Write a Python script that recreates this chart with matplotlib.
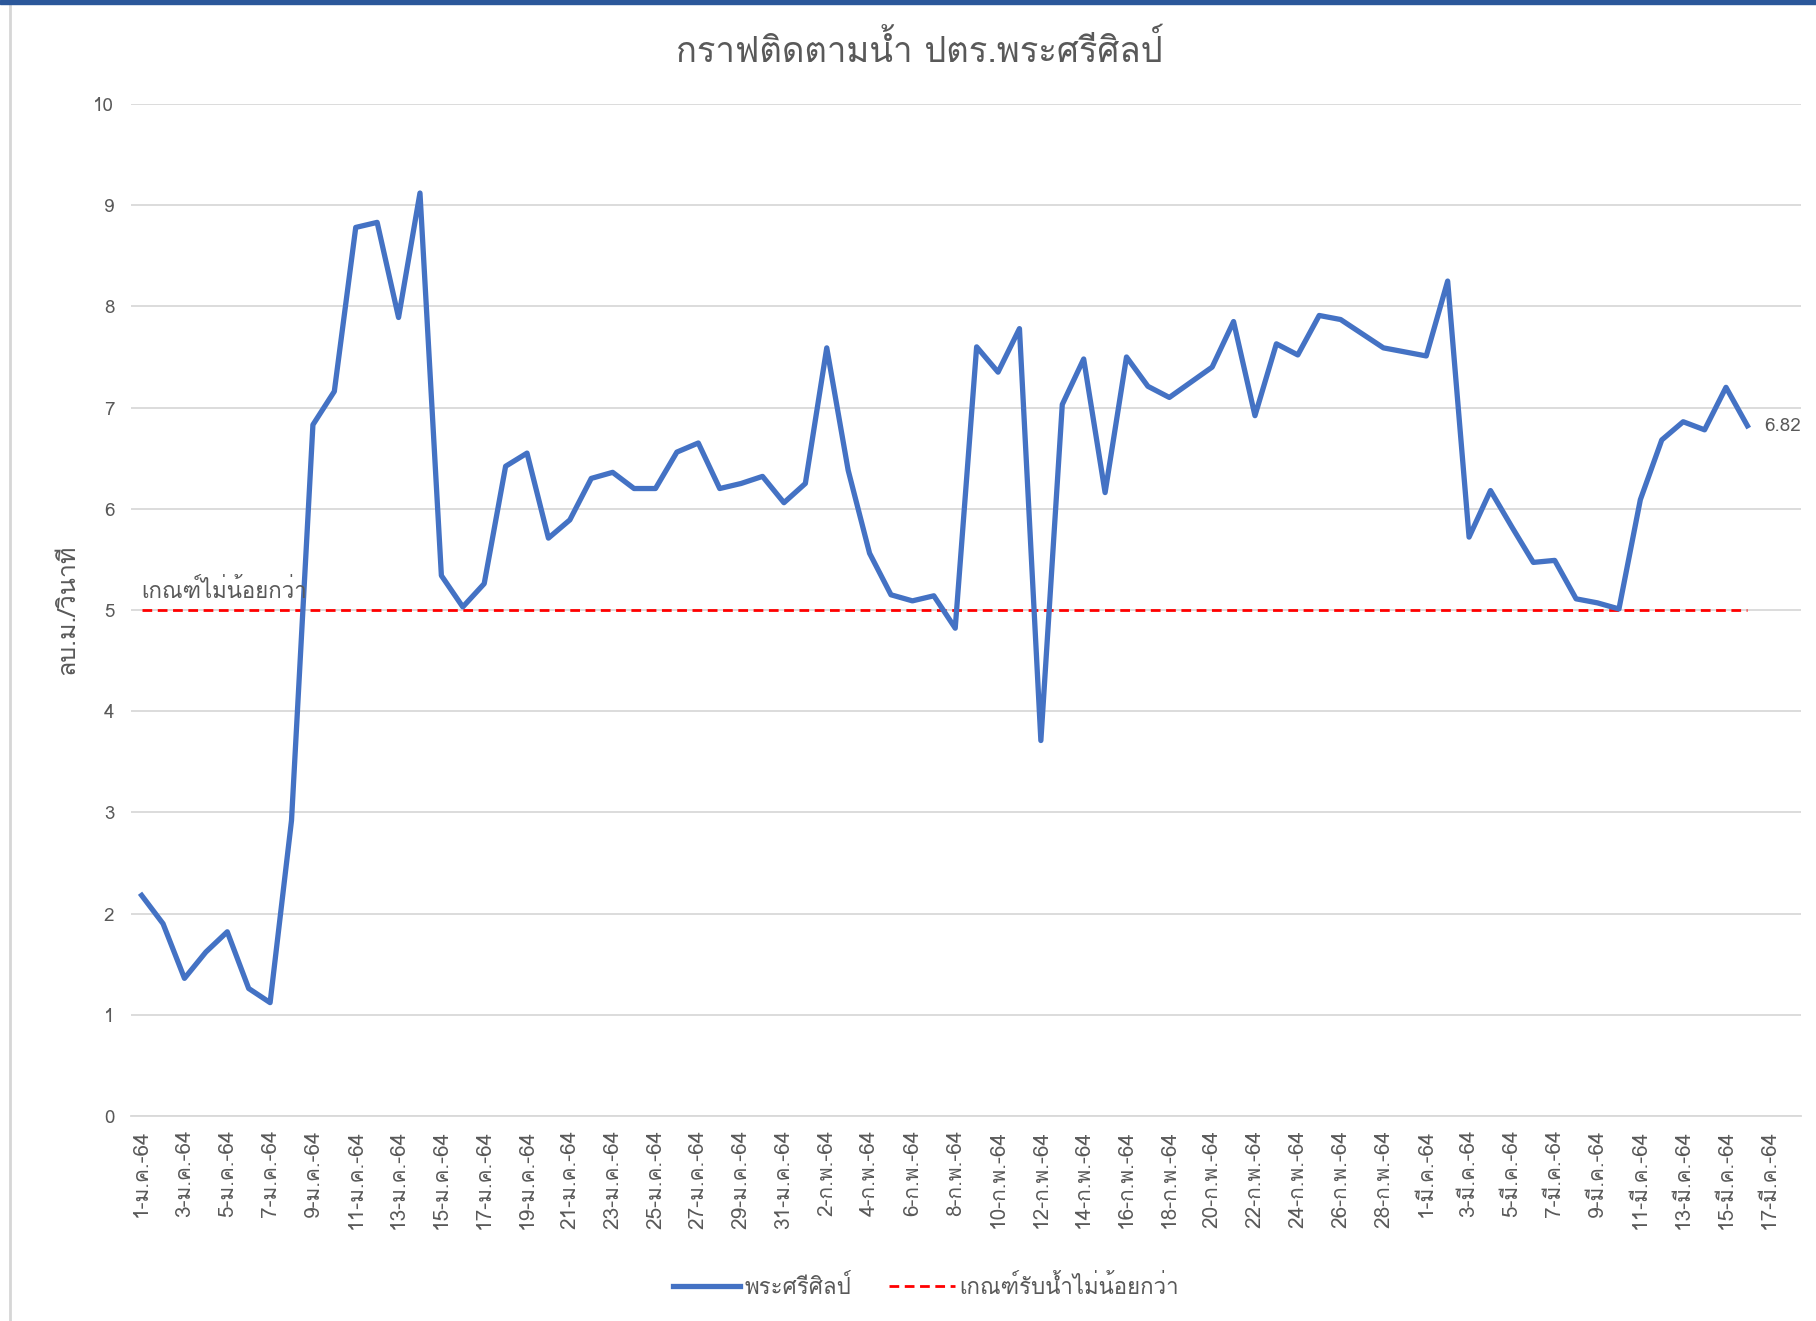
import matplotlib
matplotlib.use("Agg")
import matplotlib.pyplot as plt
from matplotlib import font_manager
from matplotlib.ft2font import FT2Font
from matplotlib.lines import Line2D
from matplotlib.patches import Rectangle


def find_thai_font():
    '''
    Looks through the installed fonts and returns the name of one that has Thai glyphs
    '''
    for f in font_manager.fontManager.ttflist:
        try:
            if 0x0E01 in FT2Font(f.fname).get_charmap():
                return f.name
        except Exception:
            pass
    return None


thai = find_thai_font()
plt.rcParams['font.family'] = [thai, 'DejaVu Sans'] if thai else ['DejaVu Sans']

# ---- data ----
title = 'กราฟติดตามน้ำ ปตร.พระศรีศิลป์'
y_label = 'ลบ.ม./วินาที'
series_name = 'พระศรีศิลป์'
limit_name = 'เกณฑ์รับน้ำไม่น้อยกว่า'
limit_note = 'เกณฑ์ไม่น้อยกว่า'
threshold = 5.0

# daily flow, 1 Jan 64 -> 16 Mar 64 (76 points)
flow = [2.18, 1.90, 1.36, 1.62, 1.82, 1.26, 1.12, 2.92, 6.83, 7.16,
        8.78, 8.83, 7.89, 9.12, 5.34, 5.03, 5.26, 6.42, 6.55, 5.71,
        5.89, 6.30, 6.36, 6.20, 6.20, 6.56, 6.65, 6.20, 6.25, 6.32,
        6.06, 6.25, 7.59, 6.38, 5.56, 5.15, 5.09, 5.14, 4.82, 7.60,
        7.35, 7.78, 3.71, 7.03, 7.48, 6.16, 7.50, 7.21, 7.10, 7.25,
        7.40, 7.85, 6.92, 7.63, 7.52, 7.91, 7.87, 7.73, 7.59, 7.55,
        7.51, 8.25, 5.72, 6.18, 5.82, 5.47, 5.49, 5.11, 5.07, 5.01,
        6.09, 6.68, 6.86, 6.78, 7.20, 6.82]

# the axis has 78 categories, every second one labelled
n_categories = 78
jan_days = [1, 3, 5, 7, 9, 11, 13, 15, 17, 19, 21, 23, 25, 27, 29, 31]
feb_days = [2, 4, 6, 8, 10, 12, 14, 16, 18, 20, 22, 24, 26, 28]
mar_days = [1, 3, 5, 7, 9, 11, 13, 15, 17]
tick_labels = ([f'{d}-ม.ค.-64' for d in jan_days] +
               [f'{d}-ก.พ.-64' for d in feb_days] +
               [f'{d}-มี.ค.-64' for d in mar_days])

# ---- plot ----
grey_text = '#595959'
fig = plt.figure(figsize=(18.16, 13.21), dpi=100)
ax = fig.add_axes([0.0721, 0.1552, 0.9917 - 0.0721, 0.9213 - 0.1552])

x = list(range(len(flow)))
ax.plot(x, flow, color='#4472C4', linewidth=3.8, solid_joinstyle='round',
        label=series_name, zorder=3)
ax.plot([x[0], x[-1]], [threshold, threshold], color='#FF0000', linewidth=2.0,
        dashes=(3.5, 2), label=limit_name, zorder=2)

ax.set_xlim(-0.5, n_categories - 0.5)
ax.set_ylim(0, 10)
ax.set_yticks(range(0, 11))
ax.set_xticks(range(0, 2 * len(tick_labels), 2))
ax.set_xticklabels(tick_labels, rotation=90, va='top', ha='center')
ax.tick_params(axis='both', length=0, colors=grey_text)
ax.tick_params(axis='x', pad=10, labelsize=15)
ax.tick_params(axis='y', pad=12, labelsize=13.5)

ax.grid(axis='y', color='#D9D9D9', linewidth=1.3)
ax.set_axisbelow(True)
for side in ['top', 'right', 'left']:
    ax.spines[side].set_visible(False)
ax.spines['bottom'].set_color('#D9D9D9')
ax.spines['bottom'].set_linewidth(1.3)

ax.set_ylabel(y_label, color=grey_text, fontsize=18, labelpad=10)
fig.text(0.5065, 0.962, title, ha='center', va='center', fontsize=25, color=grey_text)

# label on the threshold line and on the last point
ax.annotate(limit_note, (x[0], threshold), xytext=(0, 5), textcoords='offset points',
            ha='left', va='bottom', fontsize=16, color=grey_text)
ax.annotate(f'{flow[-1]:.2f}', (x[-1], flow[-1]), xytext=(12, 0), textcoords='offset points',
            ha='left', va='center', fontsize=13.5, color=grey_text)

leg = fig.legend(loc='center', bbox_to_anchor=(0.51, 0.026), ncol=2, frameon=False,
                 fontsize=16, handlelength=3.0, columnspacing=1.7, handletextpad=0.2)
for t in leg.get_texts():
    t.set_color(grey_text)

# window frame bits: blue strip on top, grey edge on the left
fig.patches.append(Rectangle((0, 1 - 4 / 1321), 1, 4 / 1321, transform=fig.transFigure,
                             color='#2B579A', zorder=10))
fig.lines.append(Line2D([10 / 1816, 10 / 1816], [0, 1 - 4 / 1321], transform=fig.transFigure,
                        color='#D6D6D6', linewidth=2))

fig.savefig('out.png', dpi=100)
